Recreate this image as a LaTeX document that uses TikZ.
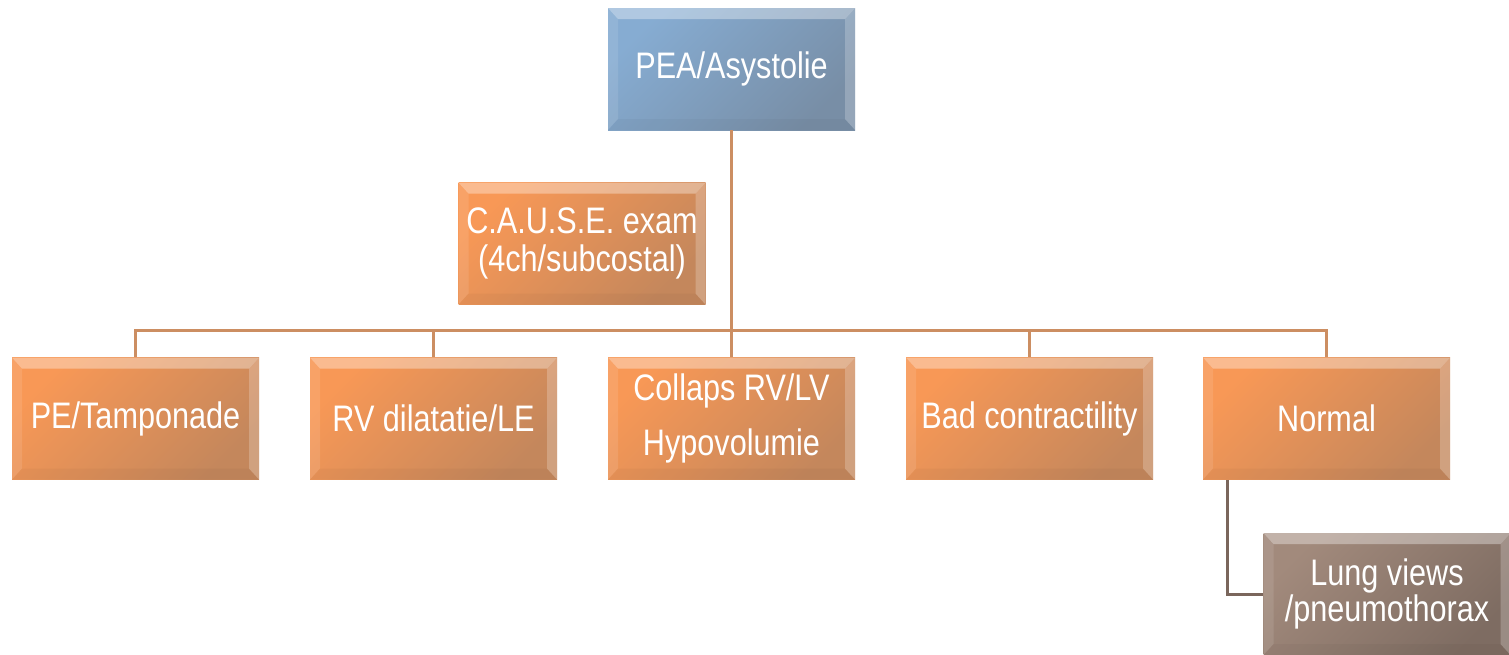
\documentclass[tikz,border=0pt]{standalone}
\usepackage{fontspec}
\newfontfamily\boxfont{Liberation Sans}[FakeStretch=0.83]
\usetikzlibrary{calc}
\definecolor{orA}{RGB}{248,152,86}
\definecolor{orB}{RGB}{196,135,92}
\definecolor{blA}{RGB}{134,172,210}
\definecolor{blB}{RGB}{120,142,166}
\definecolor{brA}{RGB}{162,138,124}
\definecolor{brB}{RGB}{126,108,98}
\definecolor{conn}{RGB}{204,142,98}
\definecolor{conn2}{RGB}{122,102,92}
\tikzset{
  bevel/.style={path picture={
    \fill[white,opacity=0.35] (path picture bounding box.north west) -- (path picture bounding box.north east) -- ++(-0.2,-0.22) -- ($(path picture bounding box.north west)+(0.2,-0.22)$) -- cycle;
    \fill[white,opacity=0.22] (path picture bounding box.north east) -- (path picture bounding box.south east) -- ++(-0.2,0.22) -- ($(path picture bounding box.north east)+(-0.2,-0.22)$) -- cycle;
    \fill[white,opacity=0.10] (path picture bounding box.north west) -- (path picture bounding box.south west) -- ++(0.2,0.22) -- ($(path picture bounding box.north west)+(0.2,-0.22)$) -- cycle;
    \fill[black,opacity=0.03] (path picture bounding box.south west) -- (path picture bounding box.south east) -- ++(-0.2,0.22) -- ($(path picture bounding box.south west)+(0.2,0.22)$) -- cycle;
  }},
  basebox/.style={rectangle, minimum width=4.94cm, minimum height=2.44cm, inner sep=0pt,
    text=white, align=center, font=\boxfont\fontsize{21}{21}\selectfont, bevel},
  orbox/.style={basebox, top color=orA, bottom color=orB, shading angle=45},
  blbox/.style={basebox, top color=blA, bottom color=blB, shading angle=45},
  brbox/.style={basebox, top color=brA, bottom color=brB, shading angle=45},
  link/.style={draw=conn, line width=1.7pt},
  link2/.style={draw=conn2, line width=1.7pt}
}
\begin{document}
\begin{tikzpicture}
\useasboundingbox (0,0) rectangle (30.18,-13.1);
\node[blbox] (pea) at (14.63,-1.38) {PEA/Asystolie};
\node[orbox, font=\boxfont\fontsize{21}{22}\selectfont] (cause) at (11.64,-4.87) {C.A.U.S.E. exam\\(4ch/subcostal)};
\node[orbox] (pe) at (2.71,-8.37) {PE/Tamponade};
\node[orbox] (rv) at (8.67,-8.37) {RV dilatatie/LE};
\node[orbox, font=\boxfont\fontsize{21}{31}\selectfont] (col) at (14.63,-8.37) {Collaps RV/LV\\Hypovolumie};
\node[orbox] (bad) at (20.59,-8.37) {Bad contractility};
\node[orbox] (norm) at (26.53,-8.37) {Normal};
\node[brbox] (lung) at (27.74,-11.88) {Lung views\\/pneumothorax};
\foreach \c in {pe,rv,col,bad,norm}{
  \draw[link] (pea.south) -- ++(0,-4) -| (\c.north);
}
\draw[link2] ($(norm.south west)+(0.5,0)$) |- (lung.west);
\end{tikzpicture}
\end{document}
